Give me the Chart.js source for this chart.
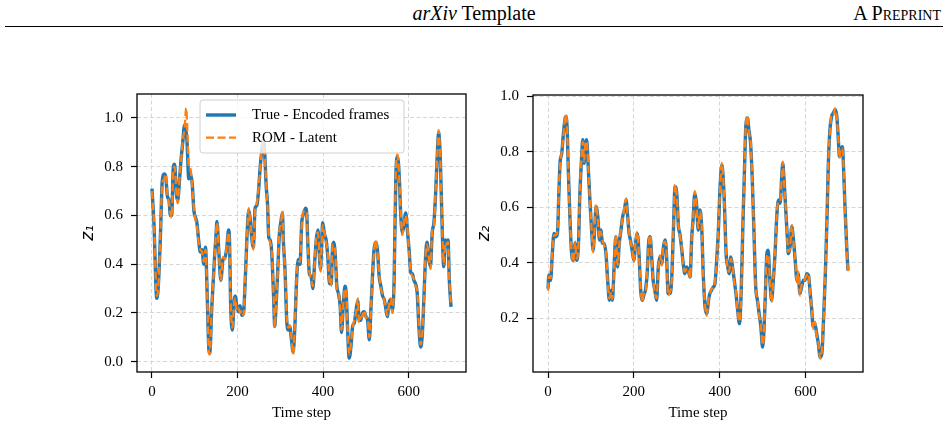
<!DOCTYPE html>
<html>
<head>
<meta charset="utf-8">
<script src="https://cdn.jsdelivr.net/npm/chart.js@4.4.1/dist/chart.umd.min.js"></script>
<style>
  body { margin: 0; width: 948px; height: 430px; background: #fff; position: relative; overflow: hidden; font-family: 'Liberation Serif', serif; }
  .hdr { position: absolute; top: 2px; font-size: 20px; color: #000; line-height: 22px; }
  #hdrTitle { left: 0; width: 948px; text-align: center; }
  #hdrRight { right: 7px; font-variant: small-caps; }
  #rule { position: absolute; left: 5px; top: 26px; width: 938px; border-top: 1.3px solid #000; }
  canvas { position: absolute; top: 84px; }
  #leftChart { left: 0; }
  #rightChart { left: 474px; }
</style>
</head>
<body>
<div class="hdr" id="hdrTitle"><i>arXiv</i> Template</div>
<div class="hdr" id="hdrRight">A Preprint</div>
<div id="rule"></div>
<canvas id="leftChart" width="474" height="346"></canvas>
<canvas id="rightChart" width="474" height="346"></canvas>
<script>
const xTicks = [0, 200, 400, 600];
const leftYTicks = [0.0, 0.2, 0.4, 0.6, 0.8, 1.0];
const rightYTicks = [0.2, 0.4, 0.6, 0.8, 1.0];
const seriesLabels = ["True - Encoded frames", "ROM - Latent"];

// z1 (left panel)
const leftSteps = [
  0, 5, 10, 12, 16, 20, 24, 29, 32, 36,
  40, 43, 46, 50, 53, 57, 60, 65, 68, 72,
  76, 80, 82, 86, 90, 94, 98, 102, 105, 109,
  113, 117, 121, 125, 129, 133, 135, 140, 146, 150,
  152, 156, 161, 166, 171, 175, 179, 181, 184, 188,
  192, 195, 198, 202, 206, 210, 214, 218, 222, 226,
  229, 233, 237, 241, 245, 249, 253, 257, 260, 263,
  267, 270, 273, 276, 280, 284, 287, 290, 293, 298,
  301, 305, 307, 311, 315, 319, 322, 326, 330, 334,
  338, 342, 346, 350, 353, 359, 362, 364, 368, 372,
  376, 380, 384, 388, 391, 394, 397, 399, 403, 407,
  411, 415, 419, 422, 425, 429, 432, 436, 440, 443,
  447, 451, 454, 457, 461, 465, 469, 473, 477, 481,
  484, 488, 492, 496, 500, 504, 508, 512, 515, 519,
  523, 527, 531, 535, 539, 543, 546, 550, 554, 558,
  562, 566, 570, 574, 578, 581, 585, 589, 593, 597,
  601, 605, 609, 612, 616, 620, 624, 628, 632, 636,
  640, 643, 647, 651, 655, 659, 663, 667, 670, 674,
  678, 682, 686, 690, 692, 695, 699
];
const leftTrue = [
  0.71, 0.55, 0.28, 0.26, 0.35, 0.53, 0.74, 0.77, 0.76, 0.68,
  0.66, 0.60, 0.60, 0.80, 0.81, 0.69, 0.66, 0.76, 0.83, 0.90,
  0.97, 0.94, 0.90, 0.75, 0.77, 0.73, 0.62, 0.59, 0.57, 0.50,
  0.45, 0.46, 0.40, 0.47, 0.28, 0.05, 0.035, 0.23, 0.42, 0.53,
  0.575, 0.46, 0.335, 0.42, 0.43, 0.47, 0.54, 0.51, 0.23, 0.13,
  0.25, 0.27, 0.23, 0.205, 0.23, 0.19, 0.20, 0.335, 0.51, 0.62,
  0.595, 0.51, 0.47, 0.63, 0.64, 0.70, 0.80, 0.87, 0.91, 0.87,
  0.72, 0.65, 0.51, 0.50, 0.445, 0.28, 0.145, 0.23, 0.335, 0.53,
  0.57, 0.61, 0.50, 0.375, 0.17, 0.13, 0.145, 0.09, 0.04, 0.145,
  0.335, 0.42, 0.40, 0.57, 0.60, 0.63, 0.60, 0.50, 0.36, 0.35,
  0.30, 0.40, 0.50, 0.54, 0.445, 0.38, 0.50, 0.57, 0.525, 0.50,
  0.43, 0.32, 0.32, 0.47, 0.49, 0.42, 0.31, 0.28, 0.225, 0.12,
  0.225, 0.31, 0.28, 0.145, 0.015, 0.06, 0.145, 0.16, 0.21, 0.25,
  0.17, 0.17, 0.20, 0.205, 0.185, 0.17, 0.09, 0.225, 0.335, 0.46,
  0.49, 0.46, 0.35, 0.31, 0.27, 0.255, 0.225, 0.185, 0.24, 0.255,
  0.21, 0.335, 0.76, 0.84, 0.76, 0.62, 0.53, 0.56, 0.61, 0.54,
  0.46, 0.365, 0.36, 0.335, 0.32, 0.28, 0.14, 0.06, 0.115, 0.28,
  0.445, 0.49, 0.42, 0.39, 0.53, 0.57, 0.69, 0.855, 0.94, 0.83,
  0.57, 0.39, 0.50, 0.475, 0.50, 0.335, 0.225
];
const leftRom = [
  0.70, 0.56, 0.29, 0.27, 0.34, 0.54, 0.73, 0.75, 0.77, 0.69,
  0.65, 0.61, 0.59, 0.79, 0.80, 0.70, 0.65, 0.77, 0.82, 0.91,
  0.95, 1.04, 0.98, 0.80, 0.79, 0.72, 0.63, 0.58, 0.56, 0.49,
  0.46, 0.45, 0.41, 0.46, 0.29, 0.04, 0.03, 0.24, 0.41, 0.54,
  0.57, 0.47, 0.33, 0.43, 0.42, 0.48, 0.53, 0.50, 0.24, 0.14,
  0.24, 0.26, 0.21, 0.22, 0.20, 0.21, 0.19, 0.34, 0.50, 0.63,
  0.59, 0.52, 0.46, 0.62, 0.65, 0.71, 0.79, 0.88, 0.90, 0.86,
  0.73, 0.64, 0.52, 0.49, 0.45, 0.29, 0.14, 0.24, 0.33, 0.54,
  0.56, 0.62, 0.49, 0.38, 0.18, 0.14, 0.15, 0.10, 0.03, 0.15,
  0.34, 0.41, 0.41, 0.56, 0.61, 0.62, 0.61, 0.49, 0.37, 0.34,
  0.31, 0.39, 0.51, 0.53, 0.45, 0.37, 0.51, 0.56, 0.53, 0.49,
  0.44, 0.33, 0.31, 0.48, 0.48, 0.43, 0.30, 0.29, 0.22, 0.13,
  0.23, 0.30, 0.29, 0.15, 0.03, 0.07, 0.14, 0.17, 0.20, 0.26,
  0.16, 0.18, 0.19, 0.21, 0.18, 0.18, 0.10, 0.22, 0.34, 0.45,
  0.50, 0.45, 0.36, 0.30, 0.28, 0.25, 0.23, 0.19, 0.23, 0.26,
  0.20, 0.34, 0.77, 0.85, 0.75, 0.63, 0.52, 0.57, 0.60, 0.55,
  0.45, 0.37, 0.35, 0.34, 0.31, 0.29, 0.15, 0.07, 0.12, 0.27,
  0.45, 0.48, 0.43, 0.38, 0.54, 0.56, 0.70, 0.86, 0.95, 0.82,
  0.58, 0.40, 0.49, 0.48, 0.49, 0.34, 0.23
];

// z2 (right panel)
const rightSteps = [
  0, 2, 6, 10, 14, 18, 22, 25, 28, 32,
  36, 40, 42, 45, 47, 51, 55, 59, 63, 67,
  71, 74, 78, 81, 84, 88, 90, 94, 98, 102,
  105, 109, 112, 116, 120, 123, 127, 131, 135, 139,
  143, 147, 150, 154, 158, 162, 166, 170, 174, 178,
  182, 185, 189, 192, 196, 200, 204, 208, 212, 216,
  220, 224, 227, 231, 235, 238, 242, 245, 249, 253,
  257, 261, 265, 269, 273, 276, 280, 284, 288, 292,
  296, 300, 304, 307, 311, 315, 319, 323, 327, 331,
  335, 338, 342, 346, 350, 354, 358, 362, 366, 370,
  374, 377, 381, 385, 389, 393, 397, 401, 405, 408,
  411, 415, 419, 422, 426, 430, 434, 438, 442, 446,
  450, 454, 458, 461, 465, 468, 472, 476, 480, 484,
  488, 492, 496, 500, 502, 506, 510, 513, 517, 521,
  525, 529, 533, 537, 541, 545, 547, 550, 554, 558,
  560, 564, 568, 572, 576, 580, 583, 587, 591, 595,
  599, 603, 607, 611, 614, 618, 622, 626, 630, 634,
  638, 642, 646, 650, 653, 657, 661, 665, 669, 673,
  677, 679, 682, 686, 688, 692, 696, 699
];
const rightTrue = [
  0.307, 0.355, 0.337, 0.433, 0.506, 0.494, 0.506, 0.638, 0.758, 0.794,
  0.867, 0.921, 0.927, 0.867, 0.746, 0.566, 0.433, 0.409, 0.470, 0.409,
  0.470, 0.638, 0.770, 0.843, 0.758, 0.831, 0.843, 0.734, 0.614, 0.506,
  0.445, 0.530, 0.602, 0.566, 0.482, 0.518, 0.470, 0.470, 0.433, 0.337,
  0.265, 0.301, 0.265, 0.385, 0.494, 0.385, 0.470, 0.518, 0.566, 0.590,
  0.626, 0.578, 0.506, 0.482, 0.445, 0.409, 0.470, 0.506, 0.433, 0.301,
  0.265, 0.289, 0.301, 0.361, 0.482, 0.494, 0.409, 0.337, 0.301, 0.265,
  0.385, 0.421, 0.397, 0.458, 0.482, 0.433, 0.289, 0.289, 0.337, 0.506,
  0.674, 0.650, 0.530, 0.506, 0.458, 0.397, 0.361, 0.385, 0.373, 0.349,
  0.494, 0.554, 0.650, 0.614, 0.518, 0.590, 0.530, 0.349, 0.241, 0.217,
  0.265, 0.289, 0.301, 0.313, 0.325, 0.409, 0.518, 0.674, 0.752, 0.710,
  0.614, 0.433, 0.385, 0.361, 0.421, 0.385, 0.337, 0.289, 0.229, 0.181,
  0.289, 0.530, 0.746, 0.891, 0.921, 0.879, 0.831, 0.698, 0.506, 0.313,
  0.265, 0.217, 0.169, 0.097, 0.121, 0.265, 0.433, 0.445, 0.337, 0.265,
  0.337, 0.433, 0.566, 0.626, 0.614, 0.722, 0.758, 0.698, 0.590, 0.482,
  0.433, 0.458, 0.530, 0.482, 0.409, 0.337, 0.361, 0.289, 0.313, 0.337,
  0.337, 0.361, 0.355, 0.289, 0.241, 0.169, 0.181, 0.145, 0.109, 0.060,
  0.072, 0.193, 0.349, 0.554, 0.746, 0.879, 0.927, 0.939, 0.951, 0.927,
  0.831, 0.782, 0.806, 0.818, 0.770, 0.602, 0.458, 0.373
];
const rightRom = [
  0.300, 0.350, 0.345, 0.440, 0.500, 0.500, 0.512, 0.645, 0.750, 0.800,
  0.860, 0.928, 0.935, 0.860, 0.752, 0.560, 0.440, 0.402, 0.476, 0.415,
  0.462, 0.645, 0.776, 0.836, 0.765, 0.838, 0.836, 0.740, 0.608, 0.512,
  0.438, 0.536, 0.610, 0.560, 0.488, 0.512, 0.478, 0.462, 0.440, 0.330,
  0.272, 0.295, 0.270, 0.378, 0.500, 0.392, 0.464, 0.525, 0.560, 0.598,
  0.632, 0.570, 0.512, 0.476, 0.452, 0.402, 0.476, 0.512, 0.426, 0.308,
  0.258, 0.295, 0.295, 0.368, 0.476, 0.500, 0.402, 0.343, 0.295, 0.272,
  0.378, 0.428, 0.390, 0.465, 0.476, 0.440, 0.282, 0.295, 0.330, 0.512,
  0.682, 0.643, 0.536, 0.500, 0.465, 0.390, 0.368, 0.378, 0.380, 0.343,
  0.500, 0.548, 0.658, 0.608, 0.525, 0.583, 0.536, 0.343, 0.248, 0.210,
  0.272, 0.282, 0.308, 0.306, 0.332, 0.402, 0.525, 0.668, 0.760, 0.716,
  0.608, 0.440, 0.378, 0.368, 0.414, 0.392, 0.330, 0.295, 0.222, 0.188,
  0.282, 0.536, 0.740, 0.898, 0.930, 0.872, 0.838, 0.692, 0.512, 0.306,
  0.272, 0.210, 0.176, 0.104, 0.115, 0.272, 0.426, 0.430, 0.343, 0.258,
  0.343, 0.426, 0.572, 0.620, 0.620, 0.716, 0.764, 0.692, 0.596, 0.476,
  0.440, 0.452, 0.536, 0.476, 0.415, 0.330, 0.368, 0.282, 0.320, 0.330,
  0.343, 0.355, 0.362, 0.282, 0.248, 0.162, 0.188, 0.138, 0.115, 0.055,
  0.078, 0.186, 0.355, 0.548, 0.752, 0.872, 0.934, 0.932, 0.956, 0.920,
  0.838, 0.776, 0.812, 0.812, 0.776, 0.596, 0.465, 0.366
];

Chart.defaults.font.family = "'Liberation Serif', 'Times New Roman', serif";
Chart.defaults.font.size = 15;
Chart.defaults.color = "#000";

const blue = "#1f77b4";
const orange = "#ff7f0e";

const points = (steps, values) => steps.map((t, i) => ({x: t, y: values[i]}));

// full black frame around the plot area (matplotlib style spines)
const frameBox = {
  id: "frameBox",
  afterDatasetsDraw(chart) {
    const {ctx, chartArea: a} = chart;
    ctx.save();
    ctx.strokeStyle = "#000";
    ctx.lineWidth = 1.3;
    ctx.strokeRect(a.left, a.top, a.right - a.left, a.bottom - a.top);
    ctx.restore();
  }
};

// legend box drawn inside the plot area
const boxLegend = {
  id: "boxLegend",
  afterDraw(chart, args, opts) {
    if (!opts.show) return;
    const {ctx, chartArea: a} = chart;
    const x = a.left + 63, y = a.top + 6, w = 204, h = 53;
    ctx.save();
    ctx.beginPath();
    ctx.roundRect(x, y, w, h, 3);
    ctx.fillStyle = "rgba(255,255,255,0.8)";
    ctx.fill();
    ctx.strokeStyle = "#d0d0d0";
    ctx.lineWidth = 1;
    ctx.stroke();
    chart.data.datasets.forEach((ds, i) => {
      const ry = y + 15 + i * 22.7;
      ctx.beginPath();
      ctx.setLineDash(ds.borderDash || []);
      ctx.strokeStyle = ds.borderColor;
      ctx.lineWidth = ds.borderWidth;
      ctx.moveTo(x + 6, ry);
      ctx.lineTo(x + 36, ry);
      ctx.stroke();
      ctx.setLineDash([]);
      ctx.fillStyle = "#000";
      ctx.font = "15px 'Liberation Serif'";
      ctx.textBaseline = "middle";
      ctx.fillText(ds.label, x + 52, ry);
    });
    ctx.restore();
  }
};

function makeScales(yMin, yMax, yTicks, yTitle, yWidth, yTitlePad) {
  return {
    x: {
      type: "linear",
      min: -35,
      max: 734,
      afterBuildTicks: s => { s.ticks = xTicks.map(v => ({value: v})); },
      afterFit: s => { s.height = 58; s.paddingLeft = 0; s.paddingRight = 0; },
      ticks: {padding: 5, maxRotation: 0, autoSkip: false, callback: v => String(v)},
      grid: {color: "#d6d6d6", tickColor: "#000", tickLength: 6, tickWidth: 1.2},
      border: {display: false, dash: [4, 2.5]},
      title: {display: true, text: "Time step", padding: {top: 0, bottom: 8}}
    },
    y: {
      type: "linear",
      min: yMin,
      max: yMax,
      afterBuildTicks: s => { s.ticks = yTicks.map(v => ({value: v})); },
      afterFit: s => { s.width = yWidth; s.paddingTop = 0; s.paddingBottom = 0; },
      ticks: {padding: 8, autoSkip: false, callback: v => v.toFixed(1)},
      grid: {color: "#d6d6d6", tickColor: "#000", tickLength: 6, tickWidth: 1.2},
      border: {display: false, dash: [4, 2.5]},
      title: {
        display: true,
        text: yTitle,
        font: {family: "'DejaVu Sans'", style: "italic", size: 17},
        padding: {top: yTitlePad, bottom: 0}
      }
    }
  };
}

function makeChart(id, steps, trueVals, romVals, cfg) {
  return new Chart(document.getElementById(id), {
    type: "line",
    data: {
      datasets: [
        {
          label: seriesLabels[0],
          data: points(steps, trueVals),
          borderColor: blue,
          borderWidth: 3.4,
          pointRadius: 0,
          cubicInterpolationMode: "monotone",
          fill: false,
          order: 1
        },
        {
          label: seriesLabels[1],
          data: points(steps, romVals),
          borderColor: orange,
          borderWidth: 2.3,
          borderDash: [8, 3.5],
          pointRadius: 0,
          cubicInterpolationMode: "monotone",
          fill: false,
          order: 0
        }
      ]
    },
    options: {
      responsive: false,
      animation: false,
      events: [],
      layout: {padding: cfg.padding},
      scales: makeScales(cfg.yMin, cfg.yMax, cfg.yTicks, cfg.yTitle, cfg.yWidth, cfg.yTitlePad),
      plugins: {
        legend: {display: false},
        tooltip: {enabled: false},
        boxLegend: {show: cfg.legend}
      }
    },
    plugins: [frameBox, boxLegend]
  });
}

makeChart("leftChart", leftSteps, leftTrue, leftRom, {
  padding: {top: 10, right: 8, left: 0, bottom: 0},
  yMin: -0.042, yMax: 1.098, yTicks: leftYTicks,
  yTitle: "z\u2081", yWidth: 137, yTitlePad: 78, legend: true
});

makeChart("rightChart", rightSteps, rightTrue, rightRom, {
  padding: {top: 11, right: 85, left: 0, bottom: 0},
  yMin: 0.007, yMax: 1.004, yTicks: rightYTicks,
  yTitle: "z\u2082", yWidth: 59, yTitlePad: 0, legend: false
});
</script>
</body>
</html>
